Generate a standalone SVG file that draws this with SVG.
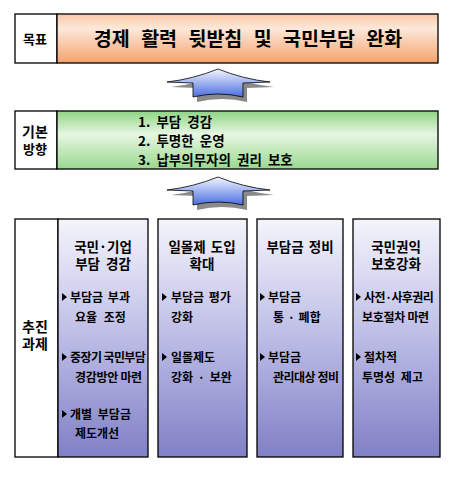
<svg xmlns="http://www.w3.org/2000/svg" width="456" height="477" viewBox="0 0 456 477">
<defs>
<linearGradient id="gOr" x1="0" y1="0" x2="0" y2="1">
<stop offset="0" stop-color="#f9c8a6"/>
<stop offset="0.3" stop-color="#fde8da"/>
<stop offset="1" stop-color="#f4a26c"/>
</linearGradient>
<linearGradient id="gGr" x1="0" y1="0" x2="0" y2="1">
<stop offset="0" stop-color="#8fd484"/>
<stop offset="0.4" stop-color="#e6f6e2"/>
<stop offset="1" stop-color="#9ad890"/>
</linearGradient>
<linearGradient id="gPu" x1="0" y1="0" x2="0" y2="1">
<stop offset="0" stop-color="#f4f4fc"/>
<stop offset="0.5" stop-color="#bcbce6"/>
<stop offset="1" stop-color="#8080c6"/>
</linearGradient>
<linearGradient id="gAr" x1="0" y1="0" x2="0" y2="1">
<stop offset="0" stop-color="#f4f6ff"/>
<stop offset="1" stop-color="#4a6ee0"/>
</linearGradient>
<path id="arr" d="M0,0 Q-25,10 -51,13 L-25,14 L-25,28 Q0,22 25,28 L25,14 L52,13 Q25,10 0,0 Z"/>
</defs>
<style>
.box{stroke:#000;stroke-width:1.3}
.lbl{font-family:"Noto Sans CJK KR","Noto Sans",sans-serif;font-weight:bold;fill:#000;text-anchor:middle}
.t{font-family:"Noto Sans CJK KR","Noto Sans",sans-serif;font-weight:bold;fill:#000}
.hd{font-size:13.5px;text-anchor:middle}
.it{font-size:12px}
.tri{fill:#000}
</style>
<rect width="456" height="477" fill="#fff"/>

<g id="goal">
<rect class="box" x="15" y="14" width="42" height="49" fill="#fff"/>
<rect class="box" x="57" y="14" width="381" height="49" fill="url(#gOr)"/>
<text class="lbl" x="35" y="44" font-size="13">목표</text>
<text class="lbl" x="248" y="46" font-size="19.5" word-spacing="7">경제 활력 뒷받침 및 국민부담 완화</text>
</g>

<g id="connectors">
<g transform="translate(218,69)">
<use href="#arr" fill="#8a8a8a" transform="translate(4,5)"/>
<use href="#arr" fill="url(#gAr)" stroke="#000" stroke-width="0.8"/>
</g>
<g transform="translate(218,177)">
<use href="#arr" fill="#8a8a8a" transform="translate(4,5)"/>
<use href="#arr" fill="url(#gAr)" stroke="#000" stroke-width="0.8"/>
</g>
</g>

<g id="direction">
<rect class="box" x="15" y="111" width="42" height="58" fill="#fff"/>
<rect class="box" x="57" y="111" width="381" height="58" fill="url(#gGr)"/>
<text class="lbl" x="35" y="137" font-size="14">기본</text>
<text class="lbl" x="35" y="154" font-size="13">방향</text>
<text class="t" x="138" y="127" font-size="13.5" word-spacing="3">1. 부담 경감</text>
<text class="t" x="138" y="146" font-size="13.5" word-spacing="3">2. 투명한 운영</text>
<text class="t" x="138" y="165" font-size="13.5" word-spacing="3">3. 납부의무자의 권리 보호</text>
</g>

<g id="tasks-label">
<rect class="box" x="15" y="219" width="43" height="238" fill="#fff"/>
<text class="lbl" x="35" y="332" font-size="14">추진</text>
<text class="lbl" x="35" y="349" font-size="14">과제</text>
</g>

<g id="col1">
<rect class="box" x="58" y="219" width="90" height="238" fill="url(#gPu)"/>
<text class="t hd" x="103" y="252">국민·기업</text>
<text class="t hd" x="103" y="269" word-spacing="3">부담 경감</text>
<path class="tri" d="M62,293 L67,297 L62,301 Z"/>
<text class="t it" x="70" y="302" word-spacing="2">부담금 부과</text>
<text class="t it" x="75" y="322" word-spacing="4">요율 조정</text>
<path class="tri" d="M62,353 L67,357 L62,361 Z"/>
<text class="t it" x="70" y="362" font-size="11" letter-spacing="-0.6">중장기 국민부담</text>
<text class="t it" x="75" y="382" letter-spacing="-0.3">경감방안 마련</text>
<path class="tri" d="M62,410 L67,414 L62,418 Z"/>
<text class="t it" x="70" y="419" word-spacing="3">개별 부담금</text>
<text class="t it" x="75" y="438">제도개선</text>
</g>

<g id="col2">
<rect class="box" x="158" y="219" width="89" height="238" fill="url(#gPu)"/>
<text class="t hd" x="202" y="252" word-spacing="2">일몰제 도입</text>
<text class="t hd" x="202" y="269">확대</text>
<path class="tri" d="M162,293 L167,297 L162,301 Z"/>
<text class="t it" x="171" y="302" word-spacing="2">부담금 평가</text>
<text class="t it" x="171" y="322">강화</text>
<path class="tri" d="M162,353 L167,357 L162,361 Z"/>
<text class="t it" x="171" y="362">일몰제도</text>
<text class="t it" x="171" y="382" word-spacing="2">강화 · 보완</text>
</g>

<g id="col3">
<rect class="box" x="257" y="219" width="86" height="238" fill="url(#gPu)"/>
<text class="t hd" x="300" y="252" word-spacing="2">부담금 정비</text>
<path class="tri" d="M260,293 L265,297 L260,301 Z"/>
<text class="t it" x="268" y="302">부담금</text>
<text class="t it" x="273" y="322" word-spacing="1">통 · 폐합</text>
<path class="tri" d="M260,353 L265,357 L260,361 Z"/>
<text class="t it" x="268" y="362">부담금</text>
<text class="t it" x="273" y="382" letter-spacing="-0.5">관리대상 정비</text>
</g>

<g id="col4">
<rect class="box" x="353" y="219" width="87" height="238" fill="url(#gPu)"/>
<text class="t hd" x="396" y="252">국민권익</text>
<text class="t hd" x="396" y="269">보호강화</text>
<path class="tri" d="M356,293 L361,297 L356,301 Z"/>
<text class="t it" x="364" y="302" letter-spacing="-0.6">사전·사후권리</text>
<text class="t it" x="362" y="322" letter-spacing="-0.3">보호절차 마련</text>
<path class="tri" d="M356,353 L361,357 L356,361 Z"/>
<text class="t it" x="364" y="362">절차적</text>
<text class="t it" x="362" y="382" word-spacing="3">투명성 제고</text>
</g>
</svg>
